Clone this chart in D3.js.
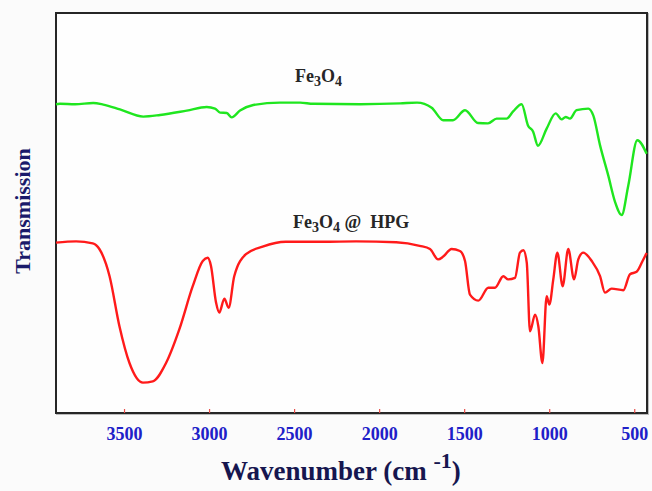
<!DOCTYPE html>
<html>
<head>
<meta charset="utf-8">
<script src="https://cdn.jsdelivr.net/npm/d3@7"></script>
<style>
  html, body { margin: 0; padding: 0; background: #fbfbfb; }
  svg { display: block; }
</style>
</head>
<body>
<div id="chart"></div>
<script>
// wavenumber (cm-1) / transmission (a.u.)
const fe3o4Wave = [3900, 3876, 3788, 3681, 3622, 3524, 3387, 3288, 3131, 3014, 2965, 2935, 2896, 2867, 2818, 2740,
  2583, 2465, 2387, 2111, 1877, 1777, 1691, 1623, 1566, 1495, 1419, 1360, 1309, 1250, 1212, 1162, 1125, 1095,
  1066, 1015, 962, 927, 903, 878, 839, 770, 741, 701, 653, 613, 574, 535, 482, 427];
const fe3o4Trans = [77.2, 77.3, 77.2, 77.5, 77.1, 75.9, 74.1, 74.5, 75.6, 76.5, 76.1, 75.1, 75.0, 73.9, 75.6, 77.0,
  77.6, 77.6, 77.3, 77.2, 77.4, 77.6, 76.3, 73.2, 73.2, 75.7, 72.5, 72.4, 73.6, 73.6, 75.4, 77.2, 71.9, 70.4,
  66.8, 71.1, 74.9, 73.4, 74.0, 73.6, 75.7, 76.1, 74.4, 66.9, 59.4, 52.8, 49.5, 56.9, 68.2, 64.8];

const hpgWave = [3900, 3782, 3684, 3645, 3585, 3527, 3468, 3389, 3331, 3253, 3175, 3096, 3037, 3008, 2989, 2959,
  2940, 2910, 2885, 2852, 2783, 2685, 2548, 2332, 2136, 1900, 1762, 1701, 1653, 1623, 1574, 1525, 1495, 1466,
  1417, 1358, 1319, 1270, 1241, 1201, 1172, 1152, 1132, 1113, 1083, 1064, 1040, 1015, 999, 976, 952, 921, 888,
  854, 829, 800, 750, 701, 672, 633, 564, 525, 486, 451, 427];
const hpgTrans = [42.6, 42.9, 42.4, 41.0, 34.2, 21.7, 12.5, 7.6, 7.9, 12.5, 20.9, 31.7, 38.0, 38.8, 36.8, 27.6,
  25.1, 28.6, 26.3, 34.2, 39.7, 41.6, 42.8, 42.8, 42.9, 42.7, 41.8, 41.0, 38.4, 39.1, 41.0, 40.5, 38.0, 29.6,
  28.1, 31.3, 31.3, 34.2, 33.4, 33.8, 40.1, 40.7, 37.6, 20.4, 24.6, 21.7, 12.5, 29.2, 27.1, 33.4, 40.1, 31.7, 41.0,
  33.4, 38.4, 40.1, 38.0, 34.2, 30.1, 31.1, 30.7, 34.7, 35.3, 38.0, 40.0];

const xTicks = [3500, 3000, 2500, 2000, 1500, 1000, 500];

const width = 652, height = 491;
const margin = {top: 13, right: 5, bottom: 78, left: 56};

const svg = d3.select("#chart").append("svg")
    .attr("width", width)
    .attr("height", height);

const x = d3.scaleLinear()
    .domain([3900, 425])
    .range([margin.left, width - margin.right]);

const y = d3.scaleLinear()
    .domain([0, 100])
    .range([height - margin.bottom, margin.top]);

// plot area
svg.append("rect")
    .attr("x", margin.left + 1)
    .attr("y", margin.top + 1)
    .attr("width", width - margin.left - margin.right)
    .attr("height", height - margin.top - margin.bottom)
    .attr("fill", "none")
    .attr("stroke", "#bbb")
    .attr("stroke-width", 2);
svg.append("rect")
    .attr("x", margin.left)
    .attr("y", margin.top)
    .attr("width", width - margin.left - margin.right)
    .attr("height", height - margin.top - margin.bottom)
    .attr("fill", "#fefefe")
    .attr("stroke", "#262626")
    .attr("stroke-width", 2);

// x axis, red ticks pointing inside
const xAxis = g => g
    .attr("transform", `translate(0,${height - margin.bottom})`)
    .call(d3.axisBottom(x).tickValues(xTicks).tickSize(-4).tickFormat(d3.format("d")))
    .call(g => g.select(".domain").remove())
    .call(g => g.selectAll(".tick line").attr("stroke", "#e8504a").attr("stroke-width", 1.2))
    .call(g => g.selectAll(".tick text")
        .attr("y", 27)
        .attr("dy", 0)
        .attr("fill", "#2020c8")
        .attr("font-family", "'Liberation Serif', 'Times New Roman', serif")
        .attr("font-weight", "bold")
        .attr("font-size", 18));

svg.append("g").call(xAxis);

const line = d3.line()
    .x(d => x(d[0]))
    .y(d => y(d[1]))
    .curve(d3.curveMonotoneX);

const series = [
    {wave: fe3o4Wave, trans: fe3o4Trans, color: "#1fe61f"},
    {wave: hpgWave, trans: hpgTrans, color: "#ff1a1a"}
];

for (const s of series) {
    svg.append("path")
        .datum(d3.zip(s.wave, s.trans))
        .attr("fill", "none")
        .attr("stroke", s.color)
        .attr("stroke-width", 2.4)
        .attr("stroke-linejoin", "round")
        .attr("d", line);
}

// curve labels
const labelFont = "'Liberation Serif', 'Times New Roman', serif";
const addLabel = function(px, py, parts) {
    const t = svg.append("text")
        .attr("x", px)
        .attr("y", py)
        .attr("font-family", labelFont)
        .attr("font-weight", "bold")
        .attr("font-size", 18)
        .attr("fill", "#262626");
    parts.forEach(p => {
        const sp = t.append("tspan").text(p.t);
        if (p.sub) sp.attr("font-size", 14).attr("dy", 4);
        else if (p.back) sp.attr("dy", -4);
    });
};
addLabel(295, 82, [{t: "Fe"}, {t: "3", sub: true}, {t: "O", back: true}, {t: "4", sub: true}]);
addLabel(293, 228, [{t: "Fe"}, {t: "3", sub: true}, {t: "O", back: true}, {t: "4", sub: true},
    {t: "\u00a0@\u00a0\u00a0HPG", back: true}]);

// axis titles
svg.append("text")
    .attr("x", 221)
    .attr("y", 480)
    .attr("font-family", labelFont)
    .attr("font-weight", "bold")
    .attr("font-size", 27)
    .attr("fill", "#16164f")
    .call(t => {
        t.append("tspan").text("Wavenumber (cm ");
        t.append("tspan").text("-1").attr("font-size", 22).attr("dy", -12);
        t.append("tspan").text(")").attr("dy", 12);
    });

svg.append("text")
    .attr("transform", `translate(30,${211}) rotate(-90)`)
    .attr("text-anchor", "middle")
    .attr("font-family", labelFont)
    .attr("font-weight", "bold")
    .attr("font-size", 22)
    .attr("fill", "#1a1a6a")
    .text("Transmission");
</script>
</body>
</html>
